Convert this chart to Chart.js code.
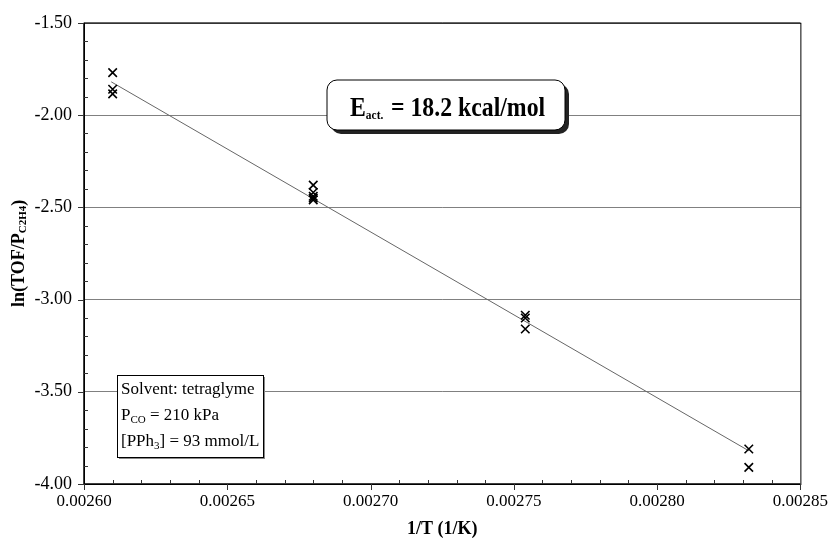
<!DOCTYPE html>
<html>
<head>
<meta charset="utf-8">
<script src="https://cdn.jsdelivr.net/npm/chart.js@4"></script>
<style>
  html, body { margin: 0; padding: 0; background: #fff; }
  canvas { display: block; }
</style>
</head>
<body>
<canvas id="arrhenius" width="835" height="544"></canvas>
<script>
/* ---------------------------
    DATA
------------------------------ */
const invT   = [0.00261, 0.00261, 0.00261,
                0.00268, 0.00268, 0.00268, 0.00268, 0.00268,
                0.002754, 0.002754, 0.002754,
                0.002832, 0.002832];
const lnTof  = [-1.77, -1.86, -1.885,
                -2.38, -2.42, -2.44, -2.45, -2.46,
                -3.085, -3.10, -3.16,
                -3.81, -3.91];
const fitX   = [0.0026095, 0.002832];
const fitY   = [-1.82, -3.82];

const xTicks = [0.00260, 0.00265, 0.00270, 0.00275, 0.00280, 0.00285];
const yTicks = [-1.50, -2.00, -2.50, -3.00, -3.50, -4.00];

const SERIF = "'Liberation Serif', 'Times New Roman', serif";

/* ---------------------------
    FRAME, TICKS, TEXT BOXES
------------------------------ */
const framePlugin = {
    id: "frame",
    afterDatasetsDraw(chart) {
        const { ctx, chartArea: a, scales } = chart;
        const x = scales.x, y = scales.y;
        ctx.save();

        // box round the plot
        ctx.strokeStyle = "#000";
        ctx.lineWidth = 1;
        ctx.strokeRect(a.left + 0.5, a.top + 0.5, a.right - a.left, a.bottom - a.top);
        ctx.lineWidth = 1.5;
        ctx.beginPath();
        ctx.moveTo(a.left, a.top); ctx.lineTo(a.left, a.bottom); ctx.lineTo(a.right, a.bottom);
        ctx.stroke();

        // ticks
        ctx.lineWidth = 1;
        ctx.strokeStyle = "#333";
        ctx.beginPath();
        for (let v = -150; v >= -400; v -= 10) {
            const py = Math.round(y.getPixelForValue(v / 100)) + 0.5;
            if (v % 50 === 0) { ctx.moveTo(a.left - 6, py); ctx.lineTo(a.left, py); }
            else { ctx.moveTo(a.left, py); ctx.lineTo(a.left + 4, py); }
        }
        for (let i = 0; i <= 25; i++) {
            const px = Math.round(x.getPixelForValue(0.0026 + i * 0.00001)) + 0.5;
            if (i % 5 === 0) { ctx.moveTo(px, a.bottom); ctx.lineTo(px, a.bottom + 6); }
            else { ctx.moveTo(px, a.bottom); ctx.lineTo(px, a.bottom - 4); }
        }
        ctx.stroke();

        // activation energy box
        const bx = 327, by = 80, bw = 238, bh = 50, r = 10;
        ctx.fillStyle = "#222";
        ctx.beginPath(); ctx.roundRect(bx + 4, by + 4, bw, bh, r); ctx.fill();
        ctx.fillStyle = "#fff";
        ctx.strokeStyle = "#000";
        ctx.lineWidth = 1;
        ctx.beginPath(); ctx.roundRect(bx, by, bw, bh, r); ctx.fill(); ctx.stroke();

        // text is a bit condensed in the original
        ctx.save();
        ctx.translate(350, 116);
        ctx.scale(0.88, 1);
        ctx.fillStyle = "#000";
        ctx.textBaseline = "alphabetic";
        ctx.textAlign = "left";
        let tx = 0;
        ctx.font = "bold 27px " + SERIF;
        ctx.fillText("E", tx, 0); tx += ctx.measureText("E").width;
        ctx.font = "bold 13px " + SERIF;
        ctx.fillText("act.", tx, 3); tx += ctx.measureText("act.").width + 2;
        ctx.font = "bold 27px " + SERIF;
        ctx.fillText(" = 18.2 kcal/mol", tx, 0);
        ctx.restore();

        // conditions box
        const cx = 117, cy = 375, cw = 146, ch = 82;
        ctx.fillStyle = "#888";
        ctx.fillRect(cx + 2, cy + 2, cw, ch);
        ctx.fillStyle = "#fff";
        ctx.fillRect(cx, cy, cw, ch);
        ctx.strokeRect(cx + 0.5, cy + 0.5, cw, ch);

        ctx.fillStyle = "#000";
        ctx.textBaseline = "alphabetic";
        ctx.textAlign = "left";
        const lx = 121;
        ctx.font = "17px " + SERIF;
        ctx.fillText("Solvent: tetraglyme", lx, 394);

        let sx = lx;
        ctx.fillText("P", sx, 420); sx += ctx.measureText("P").width;
        ctx.font = "11px " + SERIF;
        ctx.fillText("CO", sx, 423); sx += ctx.measureText("CO").width;
        ctx.font = "17px " + SERIF;
        ctx.fillText(" = 210 kPa", sx, 420);

        sx = lx;
        ctx.fillText("[PPh", sx, 446); sx += ctx.measureText("[PPh").width;
        ctx.font = "11px " + SERIF;
        ctx.fillText("3", sx, 449); sx += ctx.measureText("3").width;
        ctx.font = "17px " + SERIF;
        ctx.fillText("] = 93 mmol/L", sx, 446);

        ctx.restore();
    },
    afterDraw(chart) {
        // y-axis title with subscript
        const { ctx, chartArea: a } = chart;
        ctx.save();
        ctx.translate(19, (a.top + a.bottom) / 2);
        ctx.rotate(-Math.PI / 2);
        ctx.fillStyle = "#000";
        ctx.textBaseline = "middle";
        ctx.font = "bold 18px " + SERIF;
        const p1 = "ln(TOF/P", sub = "C2H4", p2 = ")";
        const w1 = ctx.measureText(p1).width, w3 = ctx.measureText(p2).width;
        ctx.font = "bold 11px " + SERIF;
        const w2 = ctx.measureText(sub).width;
        let t = -(w1 + w2 + w3) / 2;
        ctx.font = "bold 18px " + SERIF;
        ctx.fillText(p1, t, 0); t += w1;
        ctx.font = "bold 11px " + SERIF;
        ctx.fillText(sub, t, 4); t += w2;
        ctx.font = "bold 18px " + SERIF;
        ctx.fillText(p2, t, 0);
        ctx.restore();
    }
};

/* ---------------------------
    CHART
------------------------------ */
new Chart(document.getElementById("arrhenius"), {
    type: "scatter",
    data: {
        datasets: [{
            label: "data",
            data: invT.map((v, i) => ({ x: v, y: lnTof[i] })),
            pointStyle: "crossRot",
            pointRadius: 6,
            borderColor: "#000",
            borderWidth: 1.6,
            order: 1
        }, {
            label: "fit",
            type: "line",
            data: fitX.map((v, i) => ({ x: v, y: fitY[i] })),
            borderColor: "#666",
            borderWidth: 1,
            pointRadius: 0,
            order: 2
        }]
    },
    options: {
        responsive: false,
        animation: false,
        devicePixelRatio: 1,
        layout: { padding: { top: 19, right: 30, left: 0, bottom: 0 } },
        plugins: { legend: { display: false }, tooltip: { enabled: false } },
        scales: {
            x: {
                type: "linear",
                min: 0.0026, max: 0.00285,
                afterBuildTicks: s => { s.ticks = xTicks.map(v => ({ value: v })); },
                afterFit: s => { s.height = 60; },
                ticks: {
                    callback: v => v.toFixed(5),
                    color: "#000",
                    font: { family: SERIF, size: 17 },
                    padding: 7,
                    maxRotation: 0
                },
                grid: { display: false, drawTicks: false },
                border: { display: false },
                title: {
                    display: true,
                    text: "1/T (1/K)",
                    color: "#000",
                    font: { family: SERIF, size: 18, weight: "bold" },
                    padding: { top: 2 }
                }
            },
            y: {
                type: "linear",
                min: -4, max: -1.5,
                afterBuildTicks: s => { s.ticks = yTicks.map(v => ({ value: v })); },
                afterFit: s => { s.width = 84; },
                ticks: {
                    callback: v => v.toFixed(2),
                    color: "#000",
                    font: { family: SERIF, size: 18 },
                    padding: 12
                },
                grid: { color: "#808080", lineWidth: 1, drawTicks: false },
                border: { display: false }
            }
        }
    },
    plugins: [framePlugin]
});
</script>
</body>
</html>
